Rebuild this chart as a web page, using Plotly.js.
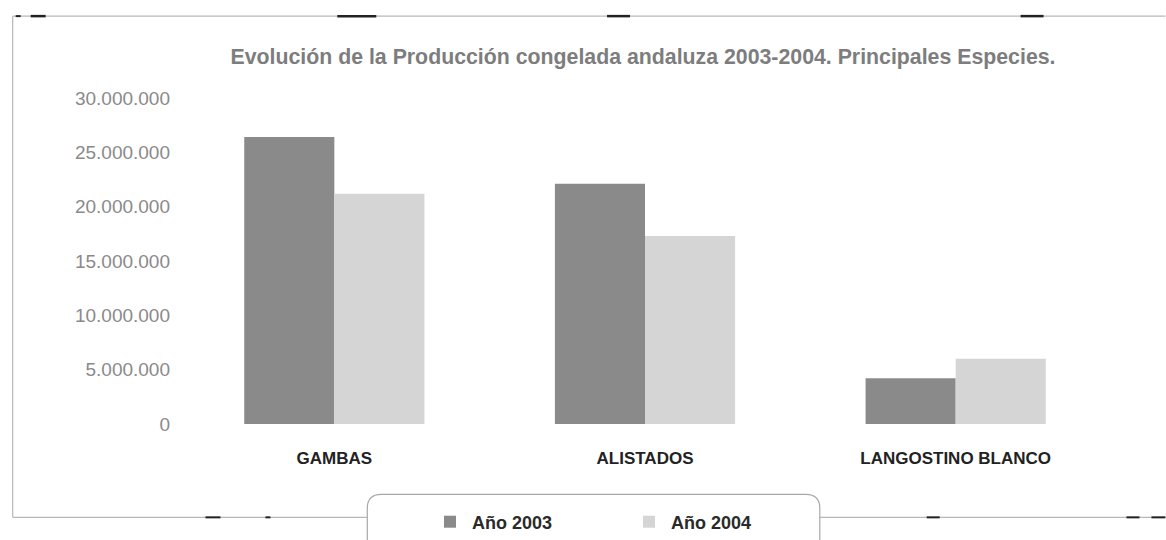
<!DOCTYPE html>
<html>
<head>
<meta charset="utf-8">
<script src="https://cdn.plot.ly/plotly-3.0.1.min.js"></script>
<style>html,body{margin:0;padding:0;background:#fff;}#chart{width:1166px;height:540px;}</style>
</head>
<body>
<div id="chart"></div>
<script>
const categories = ["GAMBAS", "ALISTADOS", "LANGOSTINO BLANCO"];
const seriesNames = ["Año 2003", "Año 2004"];
const values2003 = [26400000, 22100000, 4200000];
const values2004 = [21200000, 17300000, 6000000];
const yTickValues = [0, 5000000, 10000000, 15000000, 20000000, 25000000, 30000000];
const chartTitle = "Evolución de la Producción congelada andaluza 2003-2004. Principales Especies.";

const W = 1166, H = 540;
const M = {l: 178.5, r: 54.5, t: 98, b: 115.5};
const PW = W - M.l - M.r, PH = H - M.t - M.b;
// pixel -> paper (plot-area) coordinates for decorative frame shapes
const px = x => (x - M.l) / PW;
const py = y => (H - M.b - y) / PH;
// pixel -> container coordinates
const cx = x => x / W;
const cy = y => 1 - y / H;

const traces = [
  {type: "bar", name: seriesNames[0], x: categories, y: values2003,
   marker: {color: "#8a8a8a", line: {width: 0}}, hoverinfo: "skip"},
  {type: "bar", name: seriesNames[1], x: categories, y: values2004,
   marker: {color: "#d5d5d5", line: {width: 0}}, hoverinfo: "skip"}
];

const lineColor = "#b8b8b8";
const dark = "#222";
function seg(x0, y0, x1, y1, color, w) {
  return {type: "line", xref: "paper", yref: "paper", x0: px(x0), y0: py(y0), x1: px(x1), y1: py(y1),
          line: {color: color, width: w}, layer: "above"};
}
const r = 14, bx0 = 367, by0 = 495, bx1 = 820, by1 = 560;
const shapes = [
  seg(12, 16, 1166, 16, lineColor, 1.2),
  seg(12, 16, 12, 518, lineColor, 1.2),
  seg(12, 518, bx0, 518, lineColor, 1.2),
  seg(bx1, 518, 1166, 518, lineColor, 1.2),
  seg(15, 16, 20, 16, dark, 2), seg(30, 16, 45, 16, dark, 2.5),
  seg(337, 16, 376, 16, dark, 2.5), seg(607, 16, 630, 16, dark, 2.5),
  seg(1021, 16, 1044, 16, dark, 2.5),
  seg(205, 518, 220, 518, dark, 2), seg(265, 518, 270, 518, dark, 2),
  seg(927, 518, 940, 518, dark, 2), seg(1127, 518, 1140, 518, dark, 2),
  seg(1152, 518, 1166, 518, dark, 2),
  {type: "path", xref: "paper", yref: "paper", layer: "below",
   path: "M " + px(bx0) + "," + py(by1) + " L " + px(bx0) + "," + py(by0 + r) +
         " Q " + px(bx0) + "," + py(by0) + " " + px(bx0 + r) + "," + py(by0) +
         " L " + px(bx1 - r) + "," + py(by0) +
         " Q " + px(bx1) + "," + py(by0) + " " + px(bx1) + "," + py(by0 + r) +
         " L " + px(bx1) + "," + py(by1),
   line: {color: "#a8a8a8", width: 1.2}, fillcolor: "rgba(0,0,0,0)"}
];

const layout = {
  width: W, height: H,
  paper_bgcolor: "#ffffff", plot_bgcolor: "rgba(0,0,0,0)",
  margin: {l: M.l, r: M.r, t: M.t, b: M.b, pad: 0},
  separators: ",.",
  barmode: "group", bargap: 0.42, bargroupgap: 0,
  showlegend: true,
  title: {text: chartTitle, x: cx(643), xanchor: "center", xref: "container",
          y: cy(57), yanchor: "middle", yref: "container",
          font: {family: "Liberation Sans, Arial, sans-serif", size: 21.3, color: "#7d7d7d", weight: "bold"}},
  xaxis: {type: "category", range: [-0.5, 2.5], showgrid: false, zeroline: false, showline: false,
          ticks: "", ticklabelstandoff: 22,
          tickfont: {family: "Liberation Sans, Arial, sans-serif", size: 17, color: "#222", weight: "bold"},
          fixedrange: true},
  yaxis: {range: [0, 30000000], tickmode: "array", tickvals: yTickValues, tickformat: ",d",
          showgrid: false, zeroline: false, showline: false, ticks: "", ticklabelstandoff: 8,
          tickfont: {family: "Liberation Sans, Arial, sans-serif", size: 19, color: "#8a8a8a"},
          fixedrange: true},
  legend: {orientation: "h", x: cx(428), xanchor: "left", xref: "container", y: cy(522), yanchor: "middle", yref: "container",
           bgcolor: "rgba(0,0,0,0)", borderwidth: 0,
           entrywidth: 150, entrywidthmode: "pixels", itemwidth: 34,
           font: {family: "Liberation Sans, Arial, sans-serif", size: 18, color: "#2a2a2a", weight: "bold"}},
  shapes: shapes
};

Plotly.newPlot("chart", traces, layout, {displayModeBar: false, staticPlot: true});
</script>
</body>
</html>
